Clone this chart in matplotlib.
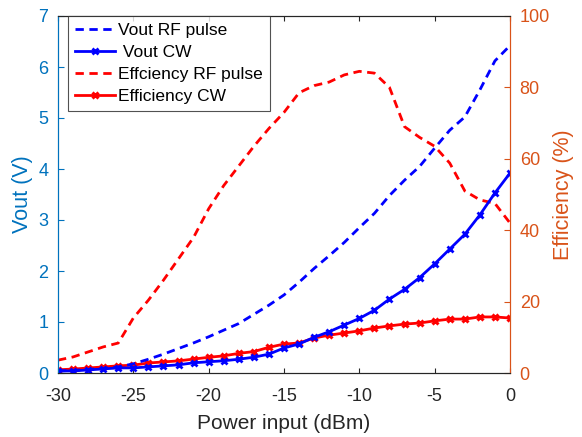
import matplotlib
matplotlib.use("Agg")
import matplotlib.pyplot as plt
import numpy as np

plt.rcParams['font.family'] = ['Liberation Sans', 'DejaVu Sans']
plt.rcParams['axes.unicode_minus'] = False

power_dbm = list(range(-30, 1))

vout_rf_pulse = [0.04, 0.05, 0.07, 0.09, 0.12, 0.18, 0.27, 0.37, 0.48, 0.59,
                 0.71, 0.84, 0.97, 1.15, 1.33, 1.53, 1.78, 2.05, 2.30, 2.56,
                 2.85, 3.13, 3.48, 3.78, 4.05, 4.41, 4.76, 5.02, 5.55, 6.12, 6.42]

vout_cw = [0.04, 0.04, 0.06, 0.08, 0.10, 0.10, 0.12, 0.14, 0.16, 0.20,
           0.22, 0.24, 0.27, 0.31, 0.37, 0.49, 0.57, 0.70, 0.81, 0.94,
           1.07, 1.23, 1.45, 1.64, 1.87, 2.14, 2.43, 2.72, 3.10, 3.53, 3.92]

eff_rf_pulse = [3.6, 4.5, 5.9, 7.3, 8.4, 15.4, 20.4, 26.0, 32.0, 38.0,
                46.0, 52.5, 58.0, 63.5, 68.5, 73.0, 78.5, 80.5, 81.5, 83.5,
                84.5, 84.0, 80.0, 69.0, 66.0, 63.5, 58.8, 51.0, 48.5, 47.5, 42.0]

eff_cw = [0.9, 1.1, 1.4, 1.7, 2.0, 2.2, 2.8, 3.1, 3.4, 3.9,
          4.4, 4.8, 5.5, 6.0, 7.2, 8.1, 8.4, 9.8, 10.6, 11.2,
          11.8, 12.6, 13.2, 13.7, 14.0, 14.6, 15.1, 15.1, 15.7, 15.7, 15.4]

left_color = '#0072BD'
right_color = '#D95319'

fig = plt.figure(figsize=(5.82, 4.37), dpi=100)
ax = fig.add_axes([58 / 582, 1 - 373 / 437, (510 - 58) / 582, (373 - 16) / 437])
ax2 = ax.twinx()

l1, = ax.plot(power_dbm, vout_rf_pulse, color='b', lw=2, dashes=(3, 2),
              label='Vout RF pulse')
l2, = ax.plot(power_dbm, vout_cw, color='b', lw=2, marker='x', ms=5, mew=2,
              label=' Vout CW')
l3, = ax2.plot(power_dbm, eff_rf_pulse, color='r', lw=2, dashes=(3, 2),
               label='Effciency RF pulse')
l4, = ax2.plot(power_dbm, eff_cw, color='r', lw=2, marker='x', ms=5, mew=2.2,
               label='Efficiency CW')

ax.set_xlim(-30, 0)
ax.set_ylim(0, 7)
ax2.set_ylim(0, 100)
ax.set_xticks([-30, -25, -20, -15, -10, -5, 0])
ax.set_yticks(range(0, 8))
ax2.set_yticks([0, 20, 40, 60, 80, 100])

ax.set_xlabel('Power input (dBm)', fontsize=15, color='#262626', labelpad=6)
ax.set_ylabel('Vout (V)', fontsize=15.5, color=left_color, labelpad=4)
ax2.set_ylabel('Efficiency (%)', fontsize=15.5, color=right_color, labelpad=2)

ax.tick_params(axis='x', direction='in', top=True, labelsize=13, colors='#262626', pad=11)
ax.tick_params(axis='y', direction='in', labelsize=13, colors=left_color, length=4, pad=7)
ax2.tick_params(axis='y', direction='in', labelsize=13, colors=right_color, length=4, pad=7)

for a in (ax, ax2):
    a.spines['left'].set_color(left_color)
    a.spines['right'].set_color(right_color)
    a.spines['top'].set_color('#262626')
    a.spines['bottom'].set_color('#262626')
    for s in a.spines.values():
        s.set_linewidth(0.8)

leg = ax.legend(handles=[l1, l2, l3, l4], loc='upper left', fontsize=12.5,
                frameon=True, fancybox=False, edgecolor='#262626',
                borderaxespad=0, bbox_to_anchor=(0.022, 1.0),
                handlelength=2.3, handletextpad=0.2, labelspacing=0.4,
                borderpad=0.4)
leg.get_frame().set_linewidth(0.8)
ax.set_zorder(ax2.get_zorder() + 1)
ax.patch.set_visible(False)

fig.savefig('out.png', dpi=100)
